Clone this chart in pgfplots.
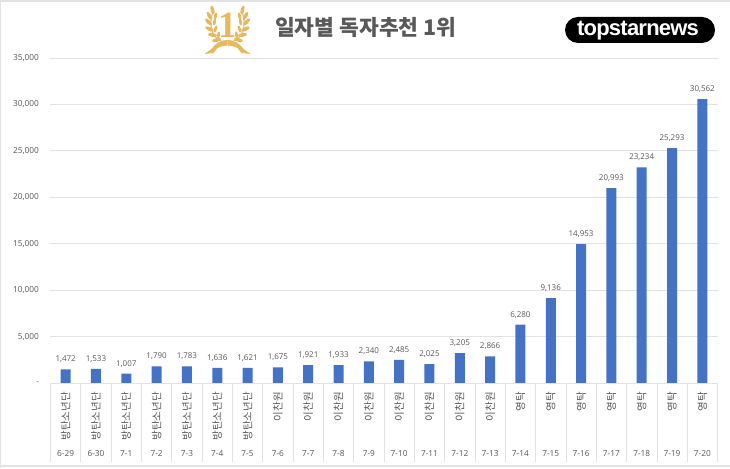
\documentclass[border=0pt]{standalone}
\usepackage{pgfplots}
\pgfplotsset{compat=1.18}
\usepackage{fontspec}
\setmainfont{Noto Sans CJK KR}
\newfontfamily\lat{Open Sans}
\newfontfamily\logo[LetterSpace=-3.5]{Liberation Sans}
\newfontfamily\titlenum{Liberation Serif}
\definecolor{barblue}{HTML}{4472C4}
\definecolor{txt}{HTML}{595959}
\definecolor{gridc}{HTML}{E2E2E2}
\definecolor{gold}{HTML}{E6B95F}
\pgfplotstableread{
x v
0 1472
1 1533
2 1007
3 1790
4 1783
5 1636
6 1621
7 1675
8 1921
9 1933
10 2340
11 2485
12 2025
13 3205
14 2866
15 6280
16 9136
17 14953
18 20993
19 23234
20 25293
21 30562
}\datatable
\begin{document}
\begin{tikzpicture}[x=1pt,y=1pt]
\useasboundingbox (0,0) rectangle (730,468);
\fill[white] (0,0) rectangle (730,468);
\draw[gridc,line width=2pt] (0,467) -- (730,467);
\draw[gridc,line width=2pt] (0,2) -- (730,2);
\draw[gridc,line width=1pt] (0.5,0) -- (0.5,468);
\begin{axis}[
  at={(50.5pt,85pt)},anchor=south west,
  scale only axis,width=667pt,height=325pt,
  xmin=-0.5,xmax=21.5,ymin=0,ymax=35000,
  axis line style={draw=none},
  clip=false,
  scaled y ticks=false,
  xtick=data,
  xticklabels={6-29,6-30,7-1,7-2,7-3,7-4,7-5,7-6,7-7,7-8,7-9,7-10,7-11,7-12,7-13,7-14,7-15,7-16,7-17,7-18,7-19,7-20},
  xticklabel style={font=\lat\fontsize{8.3}{10}\selectfont,text=txt,anchor=center,yshift=-66pt},
  x tick style={draw=none},
  ytick={0,5000,10000,15000,20000,25000,30000,35000},
  yticklabels={-,{5,000},{10,000},{15,000},{20,000},{25,000},{30,000},{35,000}},
  yticklabel style={font=\lat\fontsize{8.3}{10}\selectfont,text=txt,anchor=east,xshift=-8pt},
  y tick style={draw=none},
  ymajorgrids,
  grid style={gridc,line width=0.8pt},
  ybar,bar width=10pt,
  nodes near coords,
  point meta=explicit,
  nodes near coords style={font=\lat\fontsize{8}{10}\selectfont,text=txt,
    /pgf/number format/fixed,/pgf/number format/1000 sep={,},/pgf/number format/assume math mode=true,yshift=3pt},
]
\addplot[fill=barblue,draw=none,bar shift=0pt] table[x=x,y=v,meta=v] {\datatable};
\pgfplotsinvokeforeach{-0.5,0.5,...,21.5}{
  \draw[gridc,line width=0.7pt] (axis cs:#1,0) -- ++(0pt,-79pt);
}
\draw[gridc,line width=0.8pt] (axis cs:-0.5,0) -- (axis cs:21.5,0);
\pgfplotsinvokeforeach{0,...,6}{
  \node[rotate=90,anchor=east,font=\fontsize{10.5}{11}\selectfont,text=txt,inner sep=0pt,xshift=-9pt] at (axis cs:#1,0) {방탄소년단};
}
\pgfplotsinvokeforeach{7,...,14}{
  \node[rotate=90,anchor=east,font=\fontsize{10.5}{11}\selectfont,text=txt,inner sep=0pt,xshift=-9pt] at (axis cs:#1,0) {이찬원};
}
\pgfplotsinvokeforeach{15,...,21}{
  \node[rotate=90,anchor=east,font=\fontsize{10.5}{11}\selectfont,text=txt,inner sep=0pt,xshift=-9pt] at (axis cs:#1,0) {영탁};
}
\end{axis}
% title
\node[anchor=west,font=\bfseries\fontsize{21.5}{24}\selectfont,text=txt,inner sep=0pt] at (275,441) {일자별 독자추천 1위};
% emblem
\begin{scope}[shift={(227.5,436)}]
  \node[font=\titlenum\bfseries\fontsize{37}{37}\selectfont,text=gold,inner sep=0pt] at (0,7) {1};
  \foreach \s in {1,-1}{
    \begin{scope}[xscale=\s]
      \draw[gold,line width=1pt] (6,-9) .. controls (15,-6) and (20,6) .. (14,22);
      \foreach \x/\y/\r in {11/-8/-15,15/-3/10,18/3/25,19/10/45,18/16/60,15/22/75}{
        \fill[gold] (\x,\y) ellipse [x radius=4.6,y radius=1.9,rotate=\r];
      }
      \foreach \x/\y/\r in {9/-3/100,12/3/110,13/10/100,12/16/105}{
        \fill[gold] (\x,\y) ellipse [x radius=3.6,y radius=1.5,rotate=\r];
      }
      \fill[gold] (0,-8) .. controls (6,-8) and (12,-11) .. (16,-17) -- (23,-22) -- (14,-21) -- (10,-16)
        .. controls (6,-14) and (3,-13.5) .. (0,-13.5) -- cycle;
    \end{scope}
  }
\end{scope}
% logo
\fill[black,rounded corners=13pt] (565,425) rectangle (715,451);
\node[font=\logo\bfseries\fontsize{22}{24}\selectfont,text=white,inner sep=0pt] at (638,437) {topstarnews};
\end{tikzpicture}
\end{document}
